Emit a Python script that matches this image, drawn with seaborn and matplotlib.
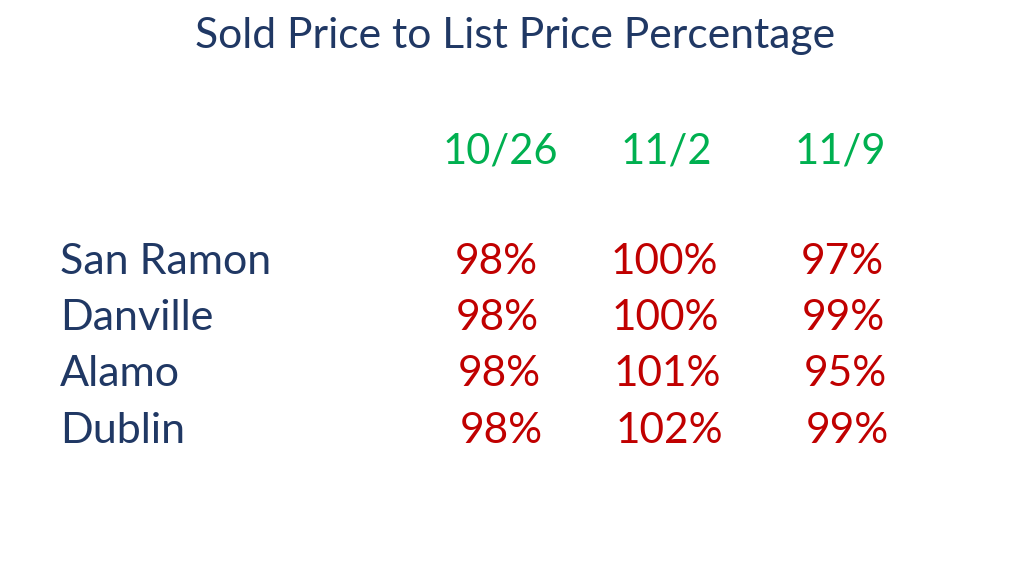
import matplotlib
matplotlib.use("Agg")
import matplotlib.pyplot as plt
import seaborn as sns

title = "Sold Price to List Price Percentage"
dates = ["10/26", "11/2", "11/9"]
cities = ["San Ramon", "Danville", "Alamo", "Dublin"]
values = [
    ["98%", "100%", "97%"],
    ["98%", "100%", "99%"],
    ["98%", "101%", "95%"],
    ["98%", "102%", "99%"],
]

sns.set_theme(style="white")
plt.rcParams['font.family'] = ['Lato', 'DejaVu Sans']

fig = plt.figure(figsize=(10.24, 5.76), dpi=100)
ax = fig.add_axes([0, 0, 1, 1])
ax.set_xlim(0, 1024)
ax.set_ylim(576, 0)
ax.axis("off")

navy = "#203864"
green = "#00B050"
red = "#C00000"

ax.text(515, 36, title, ha="center", va="center", fontsize=30.7, color=navy)

col_x = [500, 666, 840]
for x, d in zip(col_x, dates):
    ax.text(x, 151, d, ha="center", va="center", fontsize=30, color=green)

row_y = [262, 318, 374, 431]
val_x = [496, 664, 842]
for i, (y, c) in enumerate(zip(row_y, cities)):
    ax.text(60, y, c, ha="left", va="center", fontsize=31, color=navy)
    for j, v in enumerate(values[i]):
        ax.text(val_x[j] + 1.7 * i, y, v, ha="center", va="center", fontsize=30.5, color=red)

fig.savefig("out.png", dpi=100, facecolor="white")
